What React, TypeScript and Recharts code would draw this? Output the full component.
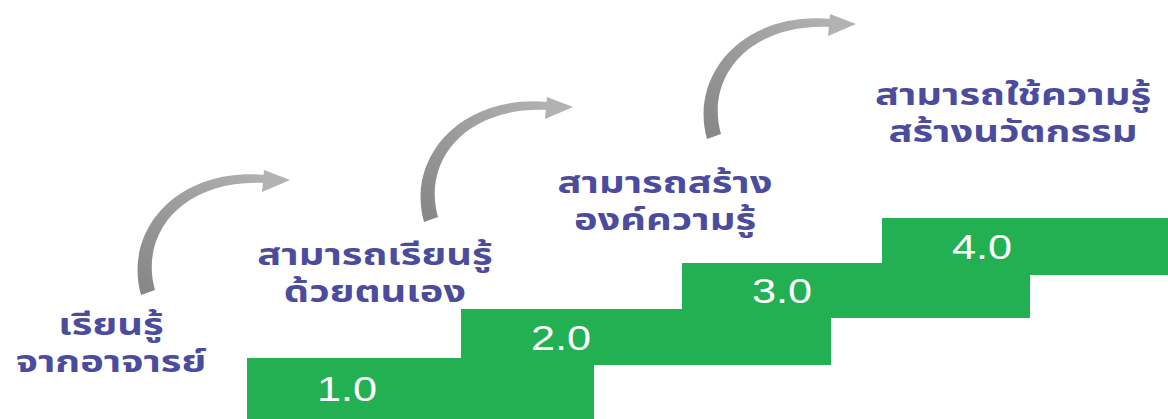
import React from 'react';
import { ComposedChart, XAxis, YAxis, ReferenceArea, ReferenceDot } from 'recharts';

// steps, in layout units (1 unit = 100px), y measured up from the bottom edge
const STEP_LABELS = ['1.0', '2.0', '3.0', '4.0'];
const STEP_START = [2.47, 4.61, 6.82, 8.82];
const STEP_END = [5.94, 8.31, 10.3, 11.68];
const STEP_BOTTOM = [0, 0.54, 1.01, 1.44];
const STEP_TOP = [0.61, 1.1, 1.56, 2.01];

// captions above each step
const CAPTION_LINE1 = ['เรียนรู้', 'สามารถเรียนรู้', 'สามารถสร้าง', 'สามารถใช้ความรู้'];
const CAPTION_LINE2 = ['จากอาจารย์', 'ด้วยตนเอง', 'องค์ความรู้', 'สร้างนวัตกรรม'];
const CAPTION_X = [1.11, 3.75, 6.65, 10.13];
const CAPTION_Y = [0.84, 1.54, 2.26, 3.14];

// tail of each curved arrow
const ARROW_X = [1.47, 4.3, 7.13];
const ARROW_Y = [1.26, 1.99, 2.82];

const GREEN = '#23b052';
const INK = '#4b4c9e';
const THAI_FONT = "'Noto Sans Thai', 'Noto Sans Thai Looped', Tahoma, 'DejaVu Sans', sans-serif";

const Caption = ({ cx, cy, idx }: any) => (
  <g transform={`translate(${cx},${cy}) scale(1.33,1)`}>
    <text x={0} y={0} textAnchor="middle" fill={INK} fontFamily={THAI_FONT} fontSize={30} fontWeight="bold">
      {CAPTION_LINE1[idx]}
    </text>
    <text x={0} y={37} textAnchor="middle" fill={INK} fontFamily={THAI_FONT} fontSize={30} fontWeight="bold">
      {CAPTION_LINE2[idx]}
    </text>
  </g>
);

const StepLabel = ({ viewBox, value }: any) => {
  const { x, y, height } = viewBox;
  return (
    <g transform={`translate(${x + 70},${y + height / 2}) scale(1.2,1)`}>
      <text
        x={0}
        y={0}
        dominantBaseline="central"
        fill="#fff"
        fontSize={36}
        fontFamily="'Liberation Sans', Arial, sans-serif"
      >
        {value}
      </text>
    </g>
  );
};

const Arrow = ({ cx, cy }: any) => (
  <g transform={`translate(${cx},${cy})`}>
    <path
      d="M -6 2 C -24 -62, 30 -126, 118 -118 L 118 -110 C 36 -114, -8 -60, 8 -3 Z"
      fill="url(#arrowFill)"
    />
    <path d="M 117 -123 L 143 -113 L 115 -101 Z" fill="#b2b2b2" />
  </g>
);

export default function App() {
  return (
    <div style={{ position: 'absolute', left: 0, top: 0, background: '#fff' }}>
      <ComposedChart width={1168} height={419} margin={{ top: 0, right: 0, bottom: 0, left: 0 }}>
        <defs>
          <linearGradient id="arrowFill" x1="0" y1="1" x2="1" y2="0">
            <stop offset="0%" stopColor="#858585" />
            <stop offset="100%" stopColor="#b2b2b2" />
          </linearGradient>
        </defs>
        <XAxis type="number" dataKey="x" domain={[0, 11.68]} hide allowDataOverflow />
        <YAxis type="number" domain={[0, 4.19]} hide allowDataOverflow />
        {STEP_LABELS.map((label, i) => (
          <ReferenceArea
            key={label}
            x1={STEP_START[i]}
            x2={STEP_END[i]}
            y1={STEP_BOTTOM[i]}
            y2={STEP_TOP[i]}
            fill={GREEN}
            fillOpacity={1}
            stroke="none"
            ifOverflow="visible"
            label={(p: any) => <StepLabel {...p} value={label} />}
          />
        ))}
        {ARROW_X.map((x, i) => (
          <ReferenceDot key={`arrow-${i}`} x={x} y={ARROW_Y[i]} ifOverflow="visible" shape={(p: any) => <Arrow {...p} />} />
        ))}
        {CAPTION_X.map((x, i) => (
          <ReferenceDot
            key={`cap-${i}`}
            x={x}
            y={CAPTION_Y[i]}
            ifOverflow="visible"
            shape={(p: any) => <Caption {...p} idx={i} />}
          />
        ))}
      </ComposedChart>
    </div>
  );
}
